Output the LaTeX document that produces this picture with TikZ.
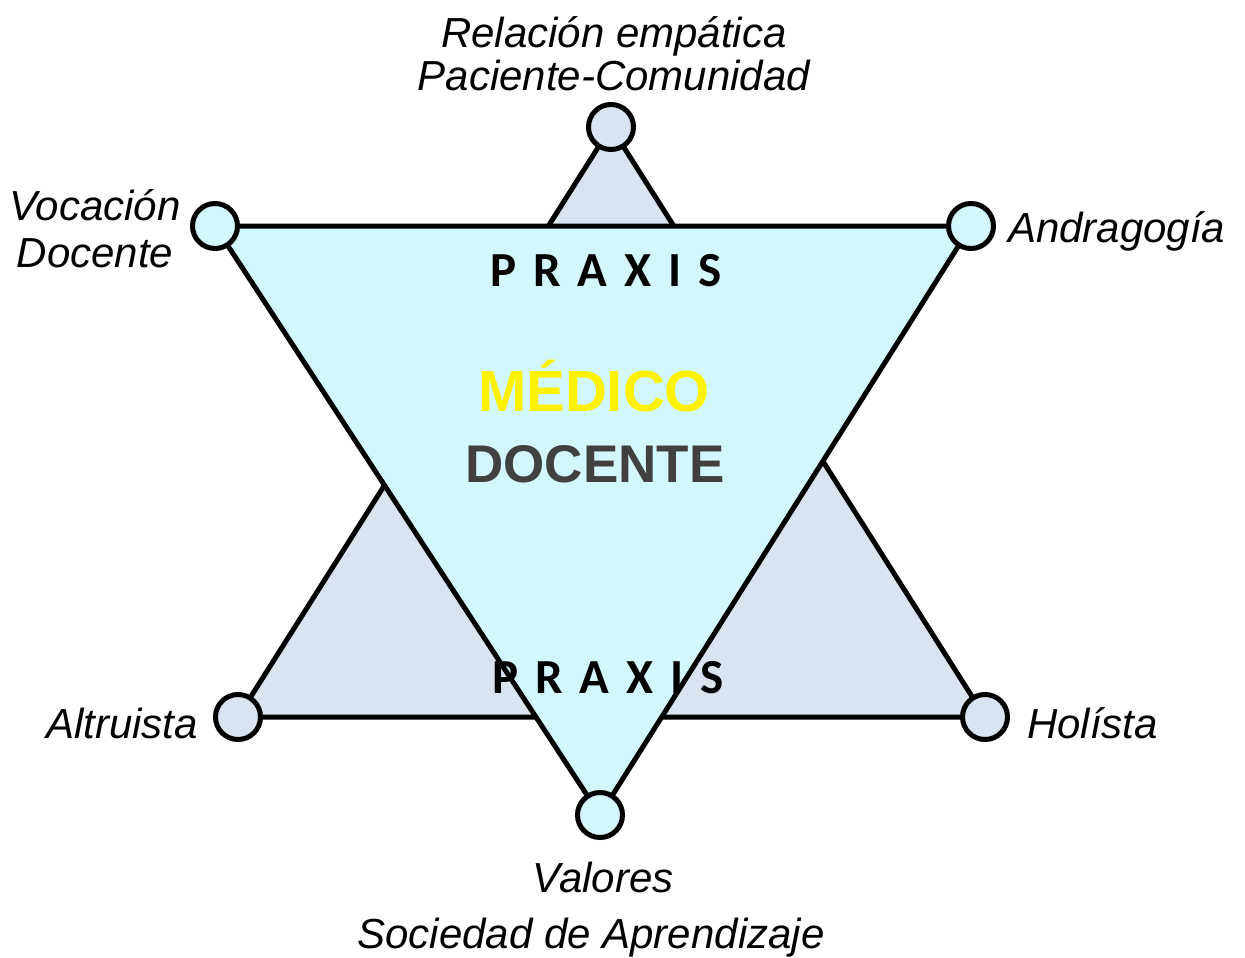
\documentclass[tikz,border=0pt]{standalone}
\usepackage{fontspec}
\setmainfont{Liberation Sans}
\newfontfamily\praxisfont{Carlito}
\usetikzlibrary{backgrounds}
\definecolor{grisazul}{RGB}{218,227,240}
\definecolor{celeste}{RGB}{210,247,252}
\definecolor{grisoscuro}{RGB}{64,64,64}

\begin{document}
\begin{tikzpicture}
	[x=1pt,y=-1pt,
	punto/.style={circle,draw,line width=5pt,minimum size=45pt,inner sep=0pt},
	lado/.style={line width=5pt,line join=round},
	etiqueta/.style={font=\fontsize{42}{43}\selectfont\itshape,inner sep=0pt},
	praxis/.style={font={\praxisfont\bfseries\fontsize{49}{49}\selectfont\spaceskip 17pt\relax},inner sep=0pt}]
	\useasboundingbox (0,0) rectangle (1245,958);
		\node[punto,fill=grisazul](arriba) at (611,127){};
		\node[punto,fill=celeste](izq) at (215,226){};
		\node[punto,fill=celeste](der) at (971,226){};
		\node[punto,fill=grisazul](abizq) at (238,717){};
		\node[punto,fill=grisazul](abder) at (985,717){};
		\node[punto,fill=celeste](abajo) at (600,815){};
		\begin{pgfonlayer}{background}
			\draw[lado,fill=grisazul](arriba.center) -- (abizq.center) -- (abder.center) -- cycle;
			\draw[lado,fill=celeste](izq.center) -- (der.center) -- (abajo.center) -- cycle;
		\end{pgfonlayer}
		\node[praxis,anchor=base](praxis1) at (606,286){P R A X I S};
		\node[praxis,anchor=base](praxis2) at (608,693){P R A X I S};
		\node[anchor=base,inner sep=0pt,text=yellow,font=\fontsize{58}{58}\selectfont\bfseries](medico) at (594,411){MÉDICO};
		\node[anchor=base,inner sep=0pt,text=grisoscuro,font=\fontsize{53}{53}\selectfont\bfseries](docente) at (595,482){DOCENTE};
		\node[etiqueta,align=center,anchor=north](relacion) at (614,16){Relación empática\\Paciente-Comunidad};
		\node[etiqueta,align=center,anchor=north,font=\fontsize{42}{47}\selectfont\itshape](vocacion) at (95,189){Vocación\\Docente};
		\node[etiqueta,anchor=base west](andragogia) at (1008,242){Andragogía};
		\node[etiqueta,anchor=base east](altruista) at (198,738){Altruista};
		\node[etiqueta,anchor=base west](holista) at (1027,738){Holísta};
		\node[etiqueta,anchor=base](valores) at (603,892){Valores};
		\node[etiqueta,anchor=base](sociedad) at (591,948){Sociedad de Aprendizaje};
\end{tikzpicture}
\end{document}
